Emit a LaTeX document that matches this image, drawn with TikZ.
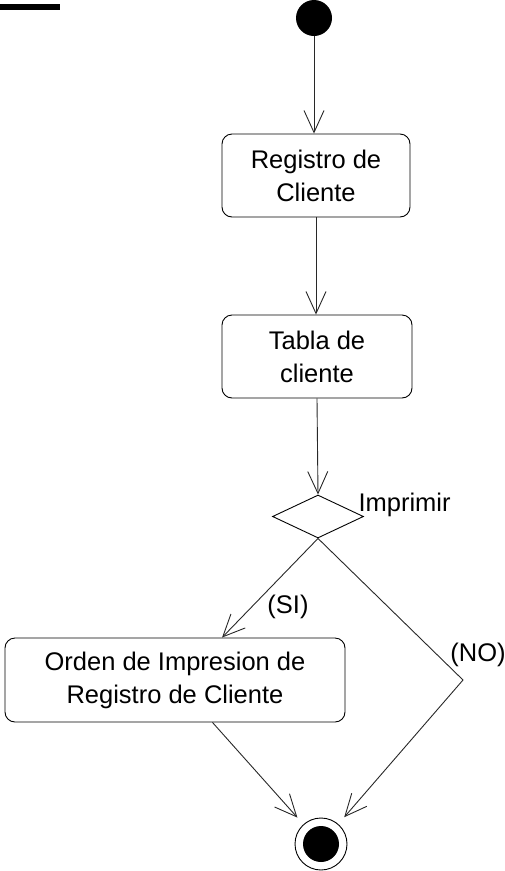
\documentclass[tikz,border=0pt]{standalone}
\usepackage{fontspec}
\setmainfont{Liberation Sans}
\usetikzlibrary{arrows.meta,calc,shapes.geometric}
\definecolor{linea}{RGB}{40,40,40}
\tikzset{actividad/.style={draw,rounded corners=10pt,line width=0.9pt,align=center,
 minimum height=83pt,inner sep=0pt},
 flujo/.style={-{Straight Barb[length=22pt,width=20pt,line width=0.9pt]},line width=0.9pt,draw=linea},
 every node/.style={font=\fontsize{25.5}{33}\selectfont}}

\begin{document}
\begin{tikzpicture}[x=1pt,y=-1pt]
\useasboundingbox (0,0) rectangle (505,871);
\fill (0,4) rectangle (60,10);
\node[circle,fill,minimum size=36pt,inner sep=0pt] (inicio) at (314,18) {};
\node[actividad,minimum width=188pt] (registro) at (316,175.5) {Registro de\\Cliente};
\node[actividad,minimum width=190pt] (tabla) at (317,356.5) {Tabla de\\cliente};
\node[diamond,draw,line width=0.9pt,inner sep=0pt,minimum width=91pt,minimum height=43pt] (decision) at (318,516.5) {};
\node[anchor=base west] (imprimir) at (355,511) {Imprimir};
\node[actividad,minimum width=340pt,minimum height=84pt] (orden) at (175,680) {Orden de Impresion de\\Registro de Cliente};
\node (si) at (288,607) {(SI)};
\node (no) at (478,655) {(NO)};
\node[circle,draw,line width=0.9pt,minimum size=52pt,inner sep=0pt] (fin) at (321,844) {};
\fill (fin.center) circle (18pt);
\coordinate (sipunto) at ($(orden.north west)!0.638!(orden.north east)$);
\coordinate (salida) at ($(orden.south west)!0.61!(orden.south east)$);
\coordinate (codo) at (463,680);
\draw[flujo] (inicio.south) -- (inicio.south |- registro.north);
\draw[flujo] (registro.south) -- (registro.south |- tabla.north);
\draw[flujo] (tabla.south) -- (decision.north);
\draw[flujo] (decision.south) -- (sipunto);
\draw[flujo,shorten >=9pt] (decision.south) -- (codo) -- (fin);
\draw[flujo,shorten >=9pt] (salida) -- (fin);
\end{tikzpicture}
\end{document}
